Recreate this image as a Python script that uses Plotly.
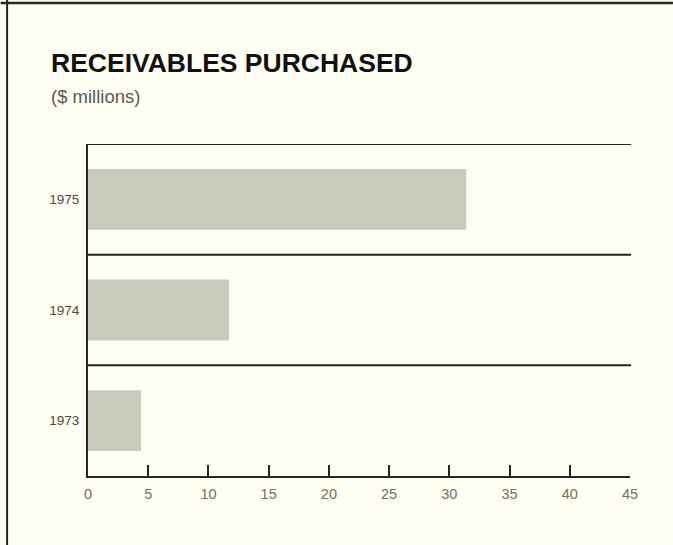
import plotly.graph_objects as go

# Receivables purchased, $ millions
years = ["1973", "1974", "1975"]
values = [4.4, 11.7, 31.4]
x_ticks = [0, 5, 10, 15, 20, 25, 30, 35, 40, 45]

W, H = 673, 545
L, R, T, B = 87.5, 43, 144, 69
pw, ph = W - L - R, H - T - B

def px_x(p):
    return (p - L) / pw

def px_y(p):
    return (H - B - p) / ph

bg = "#fffef2"
ink = "#26271f"
bar_col = "#c9c9bc"
font = "Liberation Sans, Arial, sans-serif"

fig = go.Figure(go.Bar(
    x=values, y=years, orientation="h",
    marker=dict(color=bar_col, line=dict(width=0)),
    width=0.55,
    hoverinfo="skip",
))

shapes = []
# band separators and top rule
for yv in [0.5, 1.5, 2.5]:
    shapes.append(dict(type="line", xref="paper", yref="y", x0=0, x1=1.002,
                       y0=yv, y1=yv, line=dict(color=ink, width=2)))
# outer frame: top and left rules
shapes.append(dict(type="line", xref="paper", yref="paper",
                   x0=px_x(0), x1=px_x(W), y0=px_y(3), y1=px_y(3),
                   line=dict(color=ink, width=2.5)))
shapes.append(dict(type="line", xref="paper", yref="paper",
                   x0=px_x(6.5), x1=px_x(6.5), y0=px_y(0), y1=px_y(H),
                   line=dict(color=ink, width=2)))

annotations = [
    dict(text="<b>RECEIVABLES PURCHASED</b>", xref="paper", yref="paper",
         x=px_x(48), y=px_y(63), xanchor="left", yanchor="middle",
         showarrow=False, font=dict(family=font, size=26.5, color="#111111")),
    dict(text="($ millions)", xref="paper", yref="paper",
         x=px_x(48), y=px_y(96), xanchor="left", yanchor="middle",
         showarrow=False, font=dict(family=font, size=18.5, color="#5a5a52")),
]

fig.update_layout(
    width=W, height=H,
    margin=dict(l=L, r=R, t=T, b=B, pad=0),
    paper_bgcolor=bg, plot_bgcolor=bg,
    showlegend=False,
    shapes=shapes,
    annotations=annotations,
    xaxis=dict(
        range=[0, 45], tickvals=x_ticks, ticktext=[str(v) for v in x_ticks],
        showgrid=False, zeroline=False,
        showline=True, linecolor=ink, linewidth=2,
        ticks="inside", ticklen=11, tickwidth=2, tickcolor=ink,
        ticklabelstandoff=4,
        tickfont=dict(family=font, size=14.5, color="#707066"),
        fixedrange=True,
    ),
    yaxis=dict(
        type="category", categoryorder="array", categoryarray=years,
        range=[-0.5, 2.5],
        showgrid=False, zeroline=False,
        showline=True, linecolor=ink, linewidth=2,
        ticks="", ticklabelstandoff=4,
        tickfont=dict(family=font, size=13.5, color="#4a4a42"),
        fixedrange=True,
    ),
)

fig.write_html("out.html")
